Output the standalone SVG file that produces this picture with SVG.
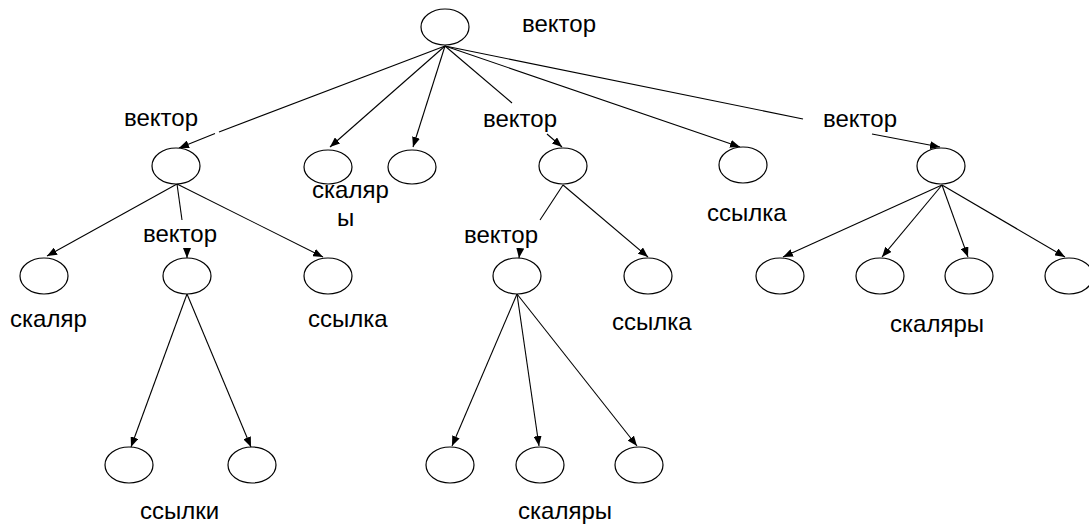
<svg xmlns="http://www.w3.org/2000/svg" width="1089" height="524" viewBox="0 0 1089 524">
<style>
.n{fill:#fff;stroke:#000;stroke-width:1.2}
.c{stroke:#000;stroke-width:1.1;fill:none}
.a{marker-end:url(#ah)}
text{font-family:"Liberation Sans",Arial,sans-serif;font-size:24px;fill:#000}
</style>
<defs>
<marker id="ah" markerUnits="userSpaceOnUse" markerWidth="10" markerHeight="8" refX="10" refY="4" orient="auto">
<path d="M0,0 L10,4 L0,8 z" fill="#000"/>
</marker>
</defs>
<rect width="1089" height="524" fill="#fff"/>
<g id="connectors">
<line class="c" x1="445" y1="46" x2="219" y2="132"/>
<line class="c a" x1="215" y1="133.5" x2="179" y2="148"/>
<line class="c a" x1="445" y1="46" x2="330" y2="147"/>
<line class="c a" x1="445" y1="46" x2="413" y2="147"/>
<line class="c" x1="445" y1="46" x2="512" y2="103"/>
<line class="c a" x1="547" y1="134" x2="562" y2="147"/>
<line class="c a" x1="445" y1="46" x2="740" y2="147"/>
<line class="c" x1="445" y1="46" x2="803" y2="119"/>
<line class="c a" x1="872" y1="134" x2="940" y2="147"/>
<line class="c a" x1="177" y1="184" x2="47" y2="256"/>
<line class="c" x1="177" y1="184" x2="182" y2="220"/>
<line class="c a" x1="187" y1="250" x2="187" y2="258"/>
<line class="c a" x1="177" y1="184" x2="323" y2="257"/>
<line class="c a" x1="187" y1="294" x2="131" y2="447"/>
<line class="c a" x1="187" y1="294" x2="251" y2="447"/>
<line class="c" x1="563" y1="185" x2="540" y2="220"/>
<line class="c a" x1="520" y1="250" x2="519" y2="258"/>
<line class="c a" x1="563" y1="185" x2="648" y2="257"/>
<line class="c a" x1="517" y1="294" x2="452" y2="446"/>
<line class="c a" x1="517" y1="294" x2="539" y2="446"/>
<line class="c a" x1="517" y1="294" x2="637" y2="446"/>
<line class="c a" x1="942" y1="185" x2="783" y2="257"/>
<line class="c a" x1="942" y1="185" x2="882" y2="257"/>
<line class="c a" x1="942" y1="185" x2="968" y2="257"/>
<line class="c a" x1="942" y1="185" x2="1065" y2="257"/>
</g>
<g id="root"><ellipse class="n" cx="445" cy="27" rx="24" ry="18"/><text x="522" y="32">вектор</text></g>
<g id="v1"><ellipse class="n" cx="176" cy="166" rx="24" ry="18"/><text x="124" y="126">вектор</text></g>
<g id="s1"><ellipse class="n" cx="328" cy="167" rx="24" ry="17"/><text x="312" y="198">скаляр<tspan x="337" y="226">ы</tspan></text></g>
<g id="s2"><ellipse class="n" cx="412" cy="167" rx="24" ry="17"/></g>
<g id="v2"><ellipse class="n" cx="563" cy="166" rx="24" ry="18"/><text x="483" y="127">вектор</text></g>
<g id="r1"><ellipse class="n" cx="743" cy="165" rx="24" ry="18"/><text x="707" y="221">ссылка</text></g>
<g id="v3"><ellipse class="n" cx="941" cy="166" rx="24" ry="18"/><text x="823" y="127">вектор</text></g>
<g id="l_s"><ellipse class="n" cx="44" cy="276" rx="24" ry="18"/><text x="10" y="327">скаляр</text></g>
<g id="l_v"><ellipse class="n" cx="187" cy="276" rx="24" ry="18"/><text x="143" y="242">вектор</text></g>
<g id="l_r"><ellipse class="n" cx="328" cy="276" rx="24" ry="18"/><text x="308" y="327">ссылка</text></g>
<g id="l_r1"><ellipse class="n" cx="129" cy="465" rx="24" ry="18"/></g>
<g id="l_r2"><ellipse class="n" cx="252" cy="465" rx="24" ry="18"/><text x="140" y="519">ссылки</text></g>
<g id="m_v"><ellipse class="n" cx="517" cy="276" rx="24" ry="18"/><text x="464" y="243">вектор</text></g>
<g id="m_r"><ellipse class="n" cx="648" cy="276" rx="24" ry="18"/><text x="612" y="330">ссылка</text></g>
<g id="m_s1"><ellipse class="n" cx="450" cy="465" rx="24" ry="18"/></g>
<g id="m_s2"><ellipse class="n" cx="540" cy="465" rx="24" ry="18"/><text x="518" y="519">скаляры</text></g>
<g id="m_s3"><ellipse class="n" cx="639" cy="465" rx="24" ry="18"/></g>
<g id="r_s1"><ellipse class="n" cx="780" cy="276" rx="24" ry="18"/></g>
<g id="r_s2"><ellipse class="n" cx="880" cy="276" rx="24" ry="18"/><text x="890" y="332">скаляры</text></g>
<g id="r_s3"><ellipse class="n" cx="969" cy="276" rx="24" ry="18"/></g>
<g id="r_s4"><ellipse class="n" cx="1069" cy="276" rx="24" ry="18"/></g>
</svg>
